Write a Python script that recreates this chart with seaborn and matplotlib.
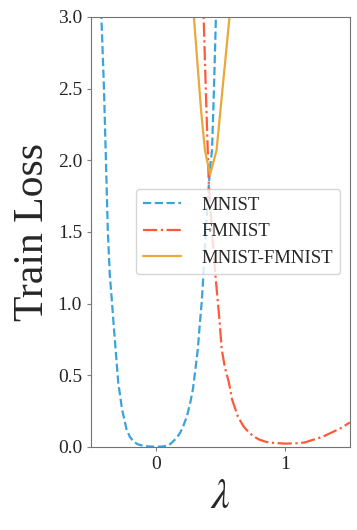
import numpy as np
import pandas as pd
import seaborn as sns
import matplotlib.pyplot as plt

# loss along the interpolation path
mnist_lam = [-0.44, -0.42, -0.40, -0.385, -0.37, -0.355, -0.34, -0.325, -0.31,
             -0.29, -0.26, -0.225, -0.20, -0.17, -0.14, -0.11, -0.06, 0.0,
             0.06, 0.10, 0.125, 0.16, 0.19, 0.215, 0.24, 0.265, 0.287, 0.305,
             0.325, 0.34, 0.357, 0.38, 0.40, 0.42, 0.435, 0.45, 0.465, 0.48]
mnist_loss = [3.4, 3.0, 2.5, 2.0, 1.5, 1.2, 1.03, 0.85, 0.68,
              0.45, 0.26, 0.12, 0.07, 0.035, 0.018, 0.01, 0.003, 0.0,
              0.003, 0.01, 0.03, 0.06, 0.10, 0.15, 0.21, 0.30, 0.40, 0.53,
              0.68, 0.85, 1.03, 1.38, 1.7, 1.95, 2.07, 2.5, 3.0, 3.5]

fmnist_lam = [0.355, 0.37, 0.39, 0.41, 0.435, 0.46, 0.49, 0.51, 0.535, 0.565,
              0.59, 0.635, 0.68, 0.72, 0.76, 0.80, 0.85, 0.90, 1.0, 1.1,
              1.15, 1.22, 1.29, 1.36, 1.43, 1.5]
fmnist_loss = [3.4, 3.0, 2.4, 1.84, 1.5, 1.21, 0.91, 0.68, 0.55, 0.45,
               0.33, 0.21, 0.14, 0.10, 0.07, 0.05, 0.035, 0.028, 0.022, 0.025,
               0.03, 0.05, 0.07, 0.10, 0.13, 0.17]

joint_lam = [0.285, 0.295, 0.35, 0.38, 0.42, 0.47, 0.57, 0.59]
joint_loss = [3.2, 3.0, 2.35, 2.07, 1.9, 2.07, 3.0, 3.2]

labels = ['MNIST', 'FMNIST', 'MNIST-FMNIST']
colors = ['#3ba3dc', '#fd5a3a', '#e9a93a']
styles = ['--', '-.', '-']

sns.set_style('white')
plt.rcParams['font.family'] = ['Liberation Serif', 'DejaVu Serif']
plt.rcParams['mathtext.fontset'] = 'stix'

fig = plt.figure(figsize=(3.57, 5.3), dpi=100)
ax = fig.add_axes([0.255, 0.157, 0.725, 0.811])

series = [(mnist_lam, mnist_loss), (fmnist_lam, fmnist_loss),
          (joint_lam, joint_loss)]
for (lam, loss), lab, c, ls in zip(series, labels, colors, styles):
    df = pd.DataFrame({'lam': lam, 'loss': loss})
    sns.lineplot(data=df, x='lam', y='loss', ax=ax, color=c, label=lab,
                 linewidth=1.6, sort=False)
    ax.lines[-1].set_linestyle(ls)

ax.set_xlim(-0.5, 1.5)
ax.set_ylim(0, 3.0)
ax.set_xticks([0, 1])
ax.set_yticks(np.arange(0, 3.01, 0.5))
ax.tick_params(axis='both', labelsize=14, length=3, color='0.5',
               bottom=True, left=True)
for s in ax.spines.values():
    s.set_color('0.45')

ax.set_xlabel(r'$\lambda$', fontsize=30)
ax.set_ylabel('Train Loss', fontsize=30)

ax.legend(loc='center right', fontsize=13.5, frameon=True,
          handletextpad=1.1, borderpad=0.4)

plt.savefig('out.png', dpi=100)
